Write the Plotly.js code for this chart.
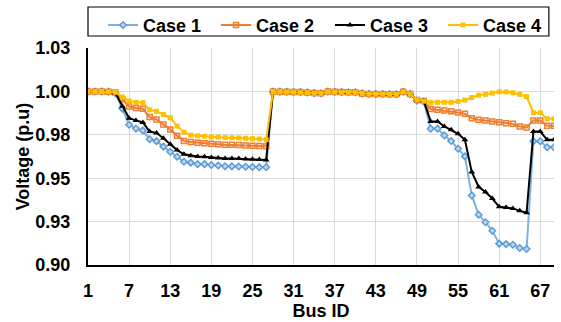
<!DOCTYPE html>
<html>
<head>
<meta charset="utf-8">
<script src="https://cdn.plot.ly/plotly-3.0.1.min.js"></script>
<style>html,body{margin:0;padding:0;background:#fff;}#chart{width:561px;height:322px;}</style>
</head>
<body>
<div id="chart"></div>
<script>
const busIds = [1,2,3,4,5,6,7,8,9,10,11,12,13,14,15,16,17,18,19,20,21,22,23,24,25,26,27,28,29,30,31,32,33,34,35,36,37,38,39,40,41,42,43,44,45,46,47,48,49,50,51,52,53,54,55,56,57,58,59,60,61,62,63,64,65,66,67,68,69];

const case1 = [1.0000,0.99997,0.99993,0.99984,0.99902,0.99009,0.98079,0.97858,0.97745,0.97245,
0.97135,0.96819,0.96526,0.96237,0.95950,0.95897,0.95809,0.95808,0.95761,0.95732,
0.95683,0.95683,0.95676,0.95660,0.95643,0.95636,0.95634,0.99993,0.99985,0.99973,
0.99971,0.99961,0.99935,0.99901,0.99895,0.99992,0.99975,0.99959,0.99954,0.99954,
0.99884,0.99855,0.99851,0.99850,0.99841,0.99840,0.99979,0.99854,0.99469,0.99415,
0.97853,0.97853,0.97465,0.97141,0.96693,0.96256,0.94008,0.92897,0.92466,0.91970,
0.91233,0.91204,0.91165,0.90976,0.90919,0.97129,0.97129,0.96786,0.96786];

const case2 = [1.0000,0.99997,0.99993,0.99984,0.99930,0.99550,0.99130,0.99050,0.99000,0.98520,
0.98380,0.98100,0.97810,0.97450,0.97150,0.97080,0.97040,0.97020,0.96980,0.96960,
0.96930,0.96930,0.96910,0.96890,0.96870,0.96850,0.96840,0.99993,0.99985,0.99973,
0.99971,0.99961,0.99935,0.99901,0.99895,0.99992,0.99975,0.99959,0.99954,0.99954,
0.99884,0.99855,0.99851,0.99850,0.99841,0.99840,0.99979,0.99854,0.99500,0.99450,
0.98980,0.98940,0.98900,0.98850,0.98790,0.98710,0.98460,0.98370,0.98330,0.98270,
0.98230,0.98170,0.98130,0.97980,0.97920,0.98330,0.98330,0.98020,0.98020];

const case3 = [1.0000,0.99997,0.99993,0.99984,0.99910,0.99150,0.98460,0.98330,0.98210,0.97690,
0.97600,0.97300,0.96950,0.96620,0.96380,0.96300,0.96250,0.96230,0.96190,0.96170,
0.96140,0.96140,0.96130,0.96110,0.96090,0.96070,0.96050,0.99993,0.99985,0.99973,
0.99971,0.99961,0.99935,0.99901,0.99895,0.99992,0.99975,0.99959,0.99954,0.99954,
0.99884,0.99855,0.99851,0.99850,0.99841,0.99840,0.99979,0.99854,0.99500,0.99450,
0.98270,0.98270,0.97980,0.97790,0.97560,0.97210,0.95360,0.94500,0.94210,0.93830,
0.93350,0.93310,0.93260,0.93120,0.93010,0.97690,0.97690,0.97210,0.97210];

const case4 = [1.0000,0.99997,0.99993,0.99984,0.99950,0.99680,0.99450,0.99370,0.99350,0.98940,
0.98850,0.98670,0.98480,0.98000,0.97650,0.97480,0.97440,0.97420,0.97380,0.97360,
0.97340,0.97330,0.97320,0.97300,0.97280,0.97260,0.97220,0.99993,0.99985,0.99973,
0.99971,0.99961,0.99935,0.99901,0.99895,0.99992,0.99975,0.99959,0.99954,0.99954,
0.99884,0.99855,0.99851,0.99850,0.99841,0.99840,0.99979,0.99854,0.99520,0.99440,
0.99370,0.99370,0.99370,0.99370,0.99420,0.99500,0.99650,0.99780,0.99830,0.99900,
0.99980,0.99970,0.99920,0.99830,0.99700,0.98770,0.98770,0.98420,0.98420];

const seriesNames = ['Case 1','Case 2','Case 3','Case 4'];
const xTickVals = [1,7,13,19,25,31,37,43,49,55,61,67];
const yTickVals = [0.9,0.925,0.95,0.975,1.0,1.025];
const yTickText = ['0.90','0.93','0.95','0.98','1.00','1.03'];

const FONT = 'Liberation Sans, Arial, sans-serif';
const legendFont = {family: FONT, size: 18, color: '#000000', weight: 'bold'};
function legendAt(xp) {
  return {orientation: 'h', x: xp, xanchor: 'left', y: 1.19, yanchor: 'top',
          borderwidth: 0, bgcolor: 'rgba(0,0,0,0)', font: legendFont, itemwidth: 30};
}

const traces = [
  {x: busIds, y: case1, name: seriesNames[0], mode: 'lines+markers', legend: 'legend',
   line: {color: '#7DB1E1', width: 2},
   marker: {symbol: 'diamond', size: 5, color: '#BDD7EE', line: {color: '#5B9BD5', width: 1.5}}},
  {x: busIds, y: case2, name: seriesNames[1], mode: 'lines+markers', legend: 'legend2',
   line: {color: '#ED7D31', width: 2},
   marker: {symbol: 'square-open', size: 5, color: '#ED7D31', line: {color: '#ED7D31', width: 1.5}}},
  {x: busIds, y: case3, name: seriesNames[2], mode: 'lines+markers', legend: 'legend3',
   line: {color: '#000000', width: 2},
   marker: {symbol: 'triangle-up', size: 6, color: '#000000'}},
  {x: busIds, y: case4, name: seriesNames[3], mode: 'lines+markers', legend: 'legend4',
   line: {color: '#FFC000', width: 2},
   marker: {symbol: 'square', size: 5, color: '#FFC000'}}
];

const layout = {
  width: 561, height: 322,
  margin: {l: 88, r: 7, t: 48, b: 57},
  paper_bgcolor: '#ffffff', plot_bgcolor: '#ffffff',
  font: {family: FONT, size: 18, color: '#000000', weight: 'bold'},
  showlegend: true,
  legend: legendAt(0.0322),
  legend2: legendAt(0.2747),
  legend3: legendAt(0.5193),
  legend4: legendAt(0.7618),
  shapes: [
    {type: 'rect', xref: 'paper', yref: 'paper', x0: 0, x1: 0.989, y0: 1.0553, y1: 1.189,
     line: {color: '#000000', width: 1.2}, fillcolor: 'rgba(0,0,0,0)', layer: 'above'}
  ],
  xaxis: {
    range: [1, 69], tickmode: 'array', tickvals: xTickVals,
    showgrid: true, gridcolor: '#D9D9D9', gridwidth: 1,
    showline: true, linecolor: '#000000', linewidth: 2, zeroline: false,
    ticks: 'outside', ticklen: 8, tickcolor: 'rgba(0,0,0,0)',
    tickfont: {family: FONT, size: 18, color: '#000000', weight: 'bold'},
    title: {text: 'Bus ID', font: {family: FONT, size: 18, color: '#000000', weight: 'bold'}, standoff: 4},
    automargin: false, fixedrange: true
  },
  yaxis: {
    range: [0.9, 1.025], tickmode: 'array', tickvals: yTickVals, ticktext: yTickText,
    showgrid: true, gridcolor: '#D9D9D9', gridwidth: 1,
    showline: true, linecolor: '#000000', linewidth: 2, zeroline: false,
    ticks: 'outside', ticklen: 12, tickcolor: 'rgba(0,0,0,0)',
    tickfont: {family: FONT, size: 18, color: '#000000', weight: 'bold'},
    title: {text: 'Voltage (p.u)', font: {family: FONT, size: 18, color: '#000000', weight: 'bold'}, standoff: 1},
    automargin: false, fixedrange: true
  }
};

Plotly.newPlot('chart', traces, layout, {displayModeBar: false, staticPlot: true});
</script>
</body>
</html>
